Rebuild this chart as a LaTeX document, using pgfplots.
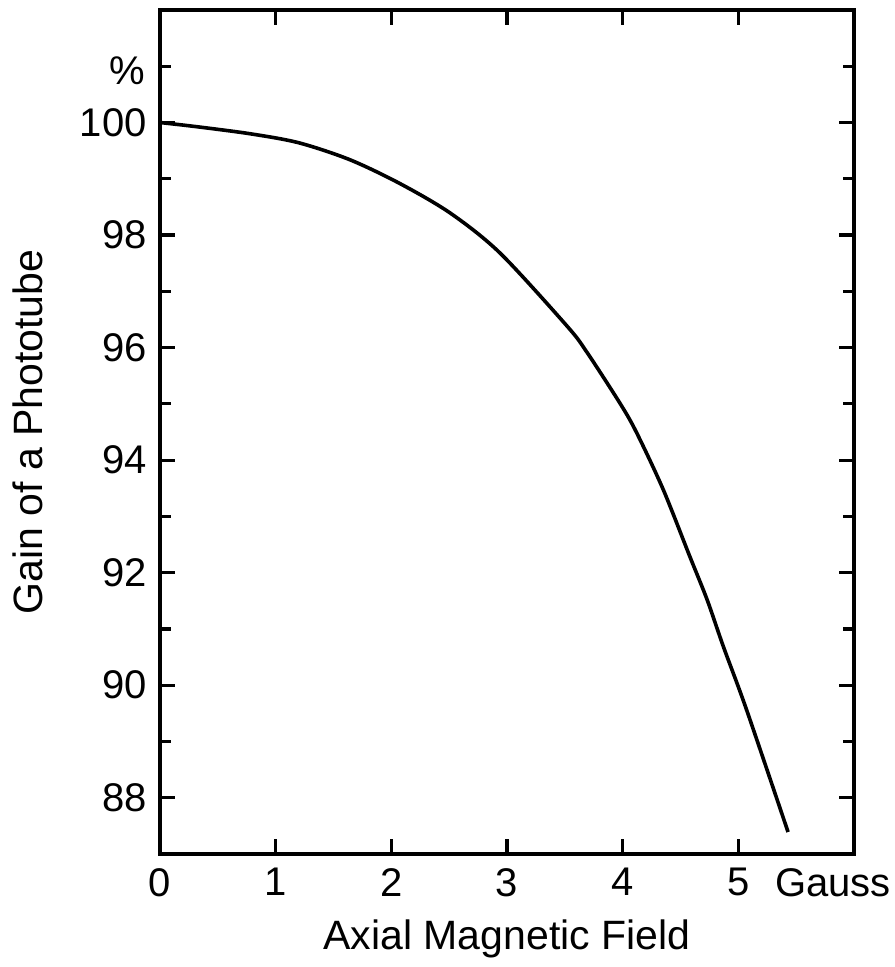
\documentclass[border=0pt]{standalone}
\usepackage{fontspec}
\setmainfont{Liberation Sans}
\usepackage{pgfplots}
\pgfplotsset{compat=1.18}
\begin{document}
\begin{tikzpicture}
\begin{axis}[
  name=ax,
  scale only axis, width=347pt, height=422pt,
  xmin=0, xmax=6, ymin=87, ymax=102,
  xtick={0,1,2,3,4,5},
  ytick={88,90,92,94,96,98,100},
  minor ytick={89,91,93,95,97,99,101},
  tick align=inside,
  major tick length=7.5pt, minor tick length=5.5pt,
  axis line style={line width=2pt},
  every tick/.style={line width=1.6pt, black},
  tick label style={font=\fontsize{20}{20}\selectfont},
  /pgf/number format/assume math mode=true,
  yticklabel style={inner sep=0pt, xshift=-6.5pt},
  xticklabel style={inner sep=0pt, yshift=-7pt},
  xlabel={Axial Magnetic Field},
  ylabel={Gain of a Phototube},
  label style={font=\fontsize{20.5}{20.5}\selectfont, inner sep=0pt},
  xlabel style={at={(axis description cs:0.5,-0.078)}, anchor=north},
  ylabel style={at={(axis description cs:-0.213,0.5)}, anchor=north},
  clip=false,
]
\addplot[smooth, tension=0.5, line width=1.8pt, black] coordinates {
(0,100.0) (0.3,99.93) (0.78,99.80) (1.2,99.64) (1.64,99.34) (2.07,98.92)
(2.51,98.39) (2.94,97.68) (3.52,96.38) (3.69,95.92) (3.98,95.0) (4.12,94.49)
(4.35,93.48) (4.58,92.29) (4.73,91.52) (4.87,90.69) (5.07,89.57) (5.43,87.39)
};
\node[anchor=east, inner sep=0pt, xshift=-7.5pt, font=\fontsize{20}{20}\selectfont] at (axis cs:0,100.92) {\%};
\node[anchor=north, inner sep=0pt, yshift=-7pt, font=\fontsize{20}{20}\selectfont] at (axis cs:5.82,87) {Gauss};
\end{axis}
\path ([shift={(-80pt,-56.5pt)}]ax.south west) rectangle ([shift={(20.5pt,5pt)}]ax.north east);
\end{tikzpicture}
\end{document}
